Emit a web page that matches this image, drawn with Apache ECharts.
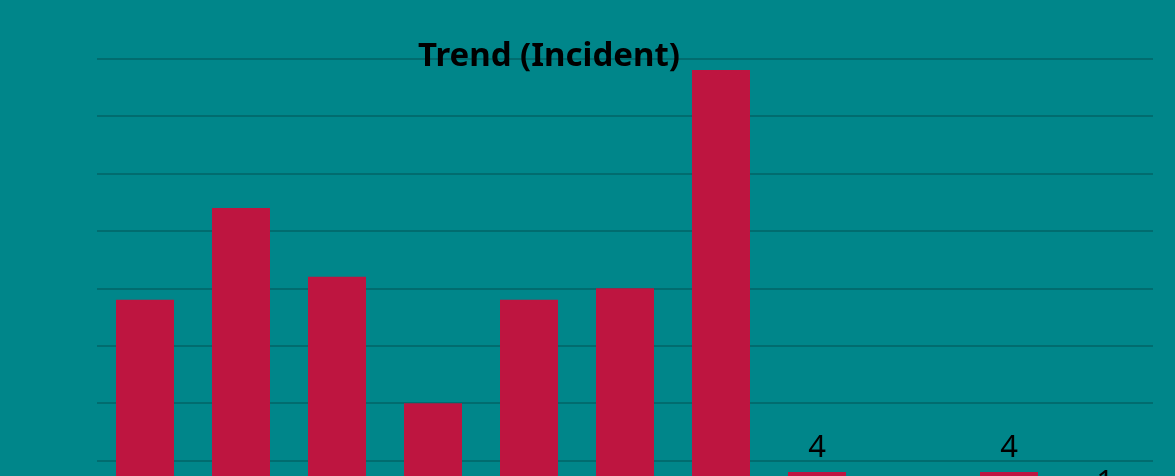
<!DOCTYPE html>
<html>
<head>
<meta charset="utf-8">
<script src="https://cdn.jsdelivr.net/npm/echarts@6/dist/echarts.min.js"></script>
<style>
  html, body { margin: 0; padding: 0; background: #00868a; }
  #main { width: 1175px; height: 476px; }
</style>
</head>
<body>
<div id="main"></div>
<script>
let chart = echarts.init(document.getElementById('main'));

// data (axis is cut off at the bottom)
let categories = ['1', '2', '3', '4', '5', '6', '7', '8', '9', '10', '11'];
let incidents = [19, 27, 21, 10, 19, 20, 39, 4, 0, 4, 1];
let labelled = [7, 9, 10]; // indexes whose value label is visible

let option = {
    backgroundColor: '#00868a',
    title: {
        text: 'Trend (Incident)',
        left: 413,
        top: 35,
        textStyle: {
            fontFamily: 'Noto Sans',
            fontWeight: 'bold',
            fontSize: 33,
            color: '#000'
        }
    },
    grid: {
        left: 97,
        right: 22,
        top: 58.6,
        height: 459.4,
        outerBoundsMode: 'none',
        containLabel: false
    },
    xAxis: {
        type: 'category',
        data: categories,
        axisLine: { show: false },
        axisTick: { show: false },
        axisLabel: { show: false }
    },
    yAxis: {
        type: 'value',
        min: 0,
        max: 40,
        interval: 5,
        axisLabel: { show: false },
        axisLine: { show: false },
        axisTick: { show: false },
        splitLine: {
            lineStyle: { color: '#016c6f', width: 2 }
        }
    },
    series: [
        {
            name: 'Incident',
            type: 'bar',
            barWidth: 58,
            itemStyle: { color: '#be1540' },
            data: incidents.map(function (v, i) {
                return {
                    value: v,
                    label: { show: labelled.indexOf(i) >= 0 }
                };
            }),
            label: {
                position: 'top',
                distance: 8,
                fontFamily: 'Noto Sans',
                fontSize: 31,
                color: '#000'
            }
        }
    ]
};
chart.setOption(option);
</script>
</body>
</html>
